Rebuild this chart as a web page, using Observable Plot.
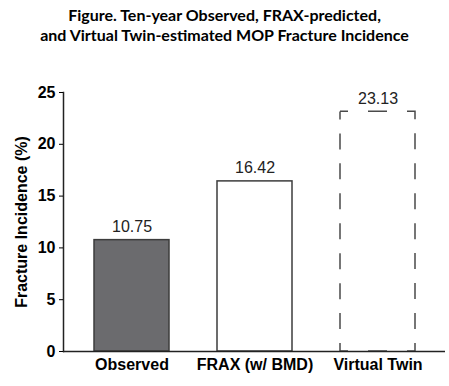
<!DOCTYPE html>
<html>
<head>
<meta charset="utf-8">
<script src="https://cdn.jsdelivr.net/npm/d3@7"></script>
<script src="https://cdn.jsdelivr.net/npm/@observablehq/plot@0.6"></script>
<style>
  html, body { margin: 0; padding: 0; background: #fff; }
  #wrap { width: 449px; }
  #title { height: 50px; box-sizing: border-box; padding-top: 5px; text-align: center;
    font-family: Lato, "Open Sans", sans-serif; font-weight: bold; font-size: 16px;
    line-height: 20px; color: #000; white-space: nowrap; }
  svg { display: block; }
</style>
</head>
<body>
<div id="wrap">
  <div id="title">Figure. Ten-year Observed, FRAX-predicted,<br>and Virtual Twin-estimated MOP Fracture Incidence</div>
  <div id="chart"></div>
</div>
<script>
const categories = ["Observed", "FRAX (w/ BMD)", "Virtual Twin"];
const values = [10.75, 16.42, 23.13];
const labels = ["10.75", "16.42", "23.13"];
const yTicks = [0, 5, 10, 15, 20, 25];
const yLabel = "Fracture Incidence (%)";

const data = categories.map((c, i) => ({category: c, value: values[i], label: labels[i]}));
const solid = data.slice(0, 2);
const dashed = data.slice(2);

const chart = Plot.plot({
  width: 449,
  height: 336,
  marginTop: 42,
  marginBottom: 35,
  marginLeft: 63,
  marginRight: 4,
  style: {fontFamily: "'Liberation Sans', Arial, sans-serif", background: "#fff", color: "#000"},
  x: {domain: categories, paddingInner: 0.393, paddingOuter: 0.243},
  y: {domain: [0, 25]},
  marks: [
    Plot.barY(solid, {
      x: "category", y: "value",
      fill: d => d.category === "Observed" ? "#6b6b6e" : "#ffffff",
      stroke: "#3c3c3c", strokeWidth: 1.5
    }),
    Plot.barY(dashed, {
      x: "category", y: "value",
      fill: "#ffffff", stroke: "#4a4a4a", strokeWidth: 1.5,
      ariaDescription: "dashed-bar"
    }),
    Plot.text(data, {
      x: "category", y: "value", text: "label",
      lineAnchor: "bottom", dy: -8, fontSize: 16, fill: "#222"
    }),
    Plot.frame({anchor: "left", stroke: "#222", strokeWidth: 1.5}),
    Plot.ruleY([0], {stroke: "#222", strokeWidth: 1.5}),
    Plot.axisY({
      ticks: yTicks, tickSize: 4, tickPadding: 4, fontSize: 16, fontWeight: "bold",
      label: yLabel, labelAnchor: "center", labelArrow: "none", labelOffset: 48
    }),
    Plot.axisX({
      tickSize: 0, tickPadding: 7, fontSize: 16, fontWeight: "bold", label: null
    })
  ]
});

// Dash pattern like the reference: a corner dash at each corner, evenly spaced dashes between.
function sidePattern(L, c, d, period) {
  const n = Math.max(0, Math.round((L - 2 * c - (period - d)) / period));
  const g = (L - 2 * c - n * d) / (n + 1);
  const out = [g];
  for (let i = 0; i < n; i++) out.push(d, g);
  return out;
}
const groups = chart.querySelectorAll('g[aria-label="bar"]');
const dashedGroup = groups[groups.length - 1];
dashedGroup.querySelectorAll("rect").forEach(r => {
  const W = +r.getAttribute("width"), H = +r.getAttribute("height");
  const c = 8;
  const top = sidePattern(W, c, 19, 39);
  const side = sidePattern(H, c, 16, 30);
  const arr = [c, ...top, 2 * c, ...side, 2 * c, ...top, 2 * c, ...side, c];
  r.setAttribute("stroke-dasharray", arr.map(v => v.toFixed(2)).join(","));
});

document.getElementById("chart").appendChild(chart);
</script>
</body>
</html>
